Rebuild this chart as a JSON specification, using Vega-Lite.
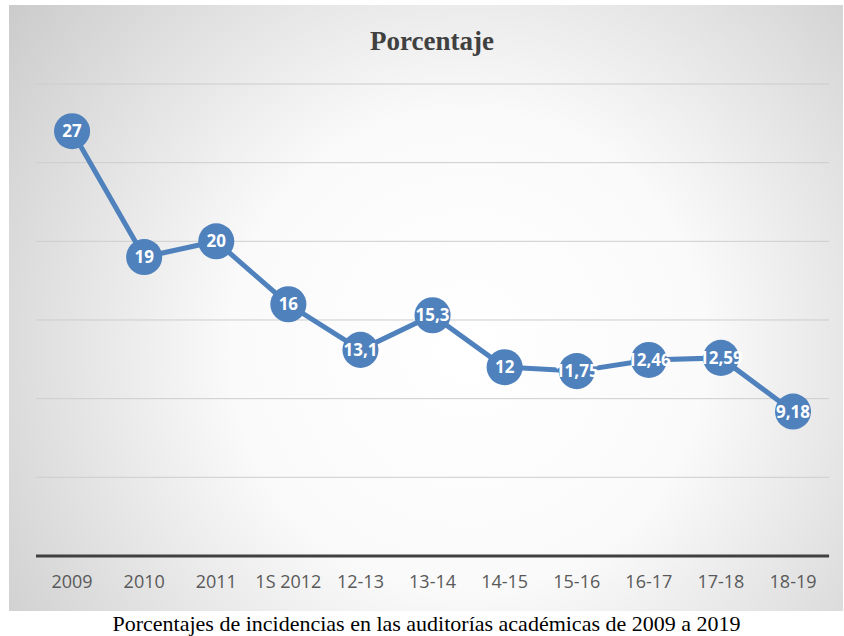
{
  "$schema": "https://vega.github.io/schema/vega-lite/v6.json",
  "width": 834,
  "height": 606,
  "autosize": "none",
  "padding": {"left": 9, "top": 5, "right": 1, "bottom": 25},
  "background": "white",
  "title": {"text": "Porcentaje", "font": "Liberation Serif", "fontSize": 27, "fontWeight": "bold", "color": "#404040", "offset": -51, "dx": 6},
  "config": {
    "view": {
      "stroke": null,
      "fill": {"gradient": "radial", "x1": 0.55, "y1": 0.55, "r1": 0, "x2": 0.55, "y2": 0.55, "r2": 0.75,
        "stops": [{"offset": 0, "color": "#ffffff"}, {"offset": 0.38, "color": "#fafafa"}, {"offset": 1, "color": "#c4c4c4"}]}
    }
  },
  "datasets": {
    "main": [
      {"cat": "2009", "pct": 27, "label": "27"},
      {"cat": "2010", "pct": 19, "label": "19"},
      {"cat": "2011", "pct": 20, "label": "20"},
      {"cat": "1S 2012", "pct": 16, "label": "16"},
      {"cat": "12-13", "pct": 13.1, "label": "13,1"},
      {"cat": "13-14", "pct": 15.3, "label": "15,3"},
      {"cat": "14-15", "pct": 12, "label": "12"},
      {"cat": "15-16", "pct": 11.75, "label": "11,75"},
      {"cat": "16-17", "pct": 12.46, "label": "12,46"},
      {"cat": "17-18", "pct": 12.59, "label": "12,59"},
      {"cat": "18-19", "pct": 9.18, "label": "9,18"}
    ],
    "grid": [{"v": 5}, {"v": 10}, {"v": 15}, {"v": 20}, {"v": 25}, {"v": 30}],
    "base": [{"v": 0}]
  },
  "layer": [
    {
      "data": {"name": "grid"},
      "mark": {"type": "rule", "color": "#cdcdcd", "strokeWidth": 1},
      "encoding": {
        "x": {"datum": "2009", "type": "nominal", "bandPosition": 0},
        "x2": {"datum": "18-19", "bandPosition": 1},
        "y": {"field": "v", "type": "quantitative", "axis": null, "scale": {"domain": [-3.497, 35.02], "nice": false, "zero": false}}
      }
    },
    {
      "data": {"name": "base"},
      "mark": {"type": "rule", "color": "#404040", "strokeWidth": 3},
      "encoding": {
        "x": {"datum": "2009", "type": "nominal", "bandPosition": 0},
        "x2": {"datum": "18-19", "bandPosition": 1},
        "y": {"field": "v", "type": "quantitative", "axis": null, "scale": {"domain": [-3.497, 35.02], "nice": false, "zero": false}}
      }
    },
    {
      "data": {"name": "main"},
      "mark": {"type": "line", "color": "#4f81bd", "strokeWidth": 5},
      "encoding": {
        "x": {"field": "cat", "type": "nominal", "sort": null, "bandPosition": 0.5,
          "scale": {"type": "band", "domain": ["2009", "2010", "2011", "1S 2012", "12-13", "13-14", "14-15", "15-16", "16-17", "17-18", "18-19"], "paddingInner": 0, "paddingOuter": 0.284, "align": 0.66},
          "axis": {"orient": "bottom", "offset": -34, "bandPosition": 0.5, "labelAlign": "center", "labelFlush": false, "labelOverlap": false,
            "domain": false, "ticks": false, "grid": false, "labelAngle": 0,
            "labelFont": "Open Sans", "labelFontSize": 18, "labelColor": "#595959", "labelPadding": 5,
            "title": "Porcentajes de incidencias en las auditorías académicas de 2009 a 2019",
            "titleFont": "Liberation Serif", "titleFontSize": 22, "titleFontWeight": "normal", "titleColor": "#000000", "titlePadding": 22}},
        "y": {"field": "pct", "type": "quantitative", "axis": null, "scale": {"domain": [-3.497, 35.02], "nice": false, "zero": false}}
      }
    },
    {
      "data": {"name": "main"},
      "mark": {"type": "circle", "size": 1300, "color": "#4f81bd", "opacity": 1},
      "encoding": {
        "x": {"field": "cat", "type": "nominal", "sort": null, "bandPosition": 0.5},
        "y": {"field": "pct", "type": "quantitative", "scale": {"domain": [-3.497, 35.02], "nice": false, "zero": false}}
      }
    },
    {
      "data": {"name": "main"},
      "mark": {"type": "text", "color": "white", "font": "Open Sans", "fontWeight": "bold", "fontSize": 17, "baseline": "middle", "align": "center", "dy": 1},
      "encoding": {
        "x": {"field": "cat", "type": "nominal", "sort": null, "bandPosition": 0.5},
        "y": {"field": "pct", "type": "quantitative", "scale": {"domain": [-3.497, 35.02], "nice": false, "zero": false}},
        "text": {"field": "label", "type": "nominal"}
      }
    }
  ]
}
